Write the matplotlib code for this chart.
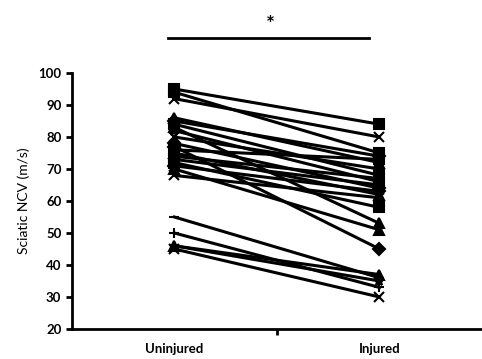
import matplotlib
matplotlib.use("Agg")
import matplotlib.pyplot as plt

plt.rcParams["font.family"] = ["Lato", "DejaVu Sans"]

# paired sciatic NCV values (m/s), one entry per animal
uninjured = [95, 94, 92, 86, 85, 84, 83, 82, 80, 78, 77, 76, 75, 74, 73, 72, 71, 70, 68, 55, 50, 46, 46, 45]
injured = [84, 75, 80, 72, 74, 68, 53, 66, 70, 64, 45, 73, 62, 67, 65, 58, 63, 51, 61, 36, 33, 35, 37, 30]
markers = ["s", "s", "x", "^", "D", "s", "^", "*", "x", "D", "D", "s", "^", "*", "s", "s", "D", "^", "x", "_", "+", "*", "^", "x"]
groups = ["Uninjured", "Injured"]
yticks = [20, 30, 40, 50, 60, 70, 80, 90, 100]

fig = plt.figure(figsize=(4.82, 3.59), dpi=100)
ax = fig.add_axes([0.149, 0.0836, 0.851, 0.713])

for a, b, m in zip(uninjured, injured, markers):
    ax.plot([1, 2], [a, b], color="black", lw=2.2, marker=m,
            markersize=6.5, markeredgewidth=1.5, clip_on=False)

ax.set_xlim(0.5, 2.5)
ax.set_ylim(20, 100)
ax.set_yticks(yticks)
ax.set_yticklabels([str(t) for t in yticks], fontsize=9.5, fontweight="bold")
ax.set_xticks([1.5])
ax.set_xticklabels([""])
for x, g in zip([1, 2], groups):
    ax.text(x, -0.055, g, transform=ax.get_xaxis_transform(), ha="center",
            va="top", fontsize=9.5, fontweight="bold")
ax.set_ylabel("Sciatic NCV (m/s)", fontsize=10, labelpad=6)

ax.spines["top"].set_visible(False)
ax.spines["right"].set_visible(False)
ax.spines["left"].set_linewidth(2)
ax.spines["bottom"].set_linewidth(2)
ax.tick_params(axis="both", direction="out", width=2, length=4)

# significance bar
ax.plot([0.968, 1.949], [110.9, 110.9], color="black", lw=2, clip_on=False)
ax.text(1.466, 115, "*", ha="center", va="center", fontsize=15, fontweight="bold")

fig.savefig("out.png", dpi=100)
